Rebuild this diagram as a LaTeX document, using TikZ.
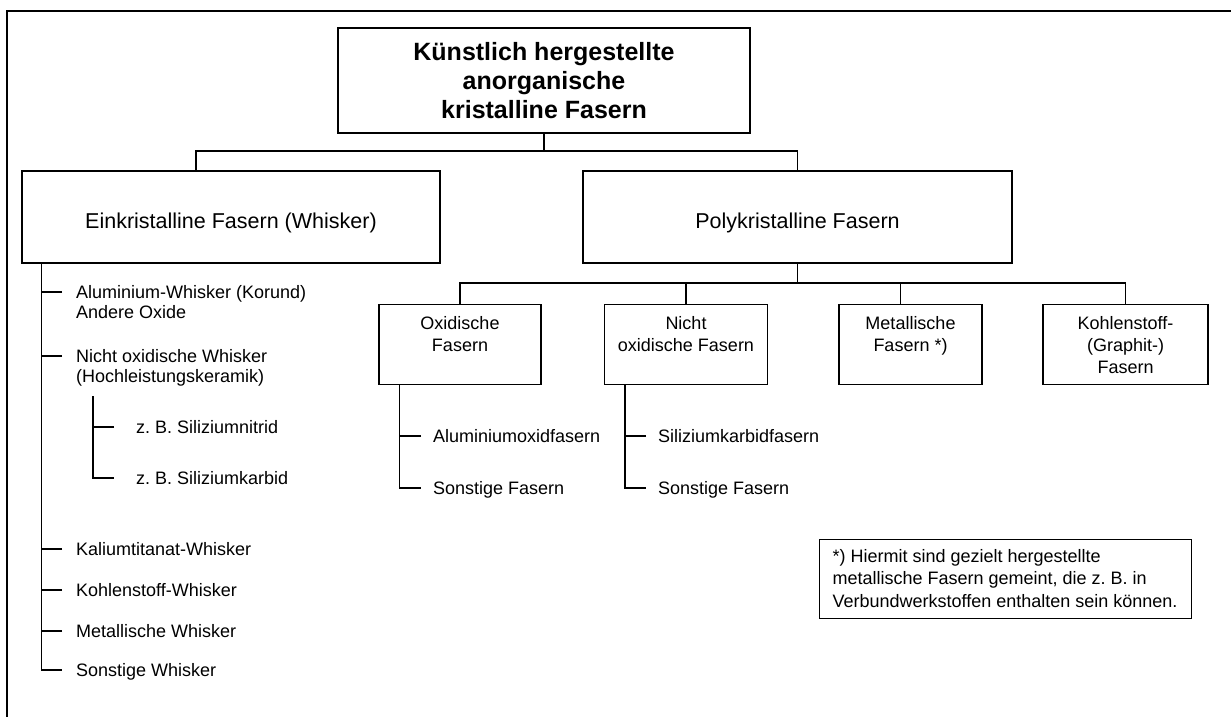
\documentclass[tikz,border=0pt]{standalone}
\usepackage{fontspec}
\setmainfont{Liberation Sans}
\usetikzlibrary{positioning}
\frenchspacing
\newcommand{\fhead}{\fontsize{25}{29}\selectfont\bfseries}
\newcommand{\fgroup}{\fontsize{21.5}{26}\selectfont}
\newcommand{\fkind}{\fontsize{18}{22}\selectfont}
\newcommand{\fleaf}{\fontsize{18}{20.5}\selectfont}
\newcommand{\fnote}{\fontsize{18}{22.5}\selectfont}

\begin{document}
\begin{tikzpicture}[x=1pt,y=-1pt,
  box/.style={draw,line width=1.3pt,align=center,inner sep=0pt},
  headbox/.style={box,font=\fhead,minimum width=412pt,minimum height=105pt},
  groupbox/.style={box,font=\fgroup,minimum height=92pt,text height=22pt,text depth=0pt},
  kindbox/.style={box,font=\fkind,anchor=north,inner ysep=12pt,text height=35pt,text depth=21pt},
  notebox/.style={box,font=\fnote,align=left,line width=1pt,minimum width=372pt,minimum height=79pt},
  leaf/.style={anchor=base west,inner xsep=14pt,inner ysep=0pt,font=\fleaf,align=left},
  link/.style={draw,line width=1.3pt},
  frame/.style={draw,line width=2.4pt}
]
\useasboundingbox (0,0) rectangle (1231,717);
\draw[frame] (7,720) -- (7,11) -- (1235,11);

% boxes
\node[headbox] (head) at (544,80.5) {Künstlich hergestellte\\anorganische\\kristalline Fasern};
\node[groupbox,minimum width=418pt] (eink) at (231,217) {Einkristalline Fasern (Whisker)};
\node[groupbox,minimum width=429pt] (poly) at (797.5,217) {Polykristalline Fasern};
\node[kindbox,minimum width=162pt] (oxid) at (460,304) {Oxidische\\Fasern};
\node[kindbox,minimum width=163pt] (nichtox) at (686,304) {Nicht\\oxidische Fasern};
\node[kindbox,minimum width=143pt] (metall) at (910.5,304) {Metallische\\Fasern *)};
\node[kindbox,minimum width=165pt,text height=57pt,text depth=0pt,inner ysep=11.5pt] (kohle) at (1125.5,304) {Kohlenstoff-\\(Graphit-)\\Fasern};
\node[notebox] (note) at (1005,578.5) {*) Hiermit sind gezielt hergestellte\\metallische Fasern gemeint, die z. B. in\\Verbundwerkstoffen enthalten sein können.};

% tree lines
\coordinate (bus1) at (0,151);
\coordinate (bus2) at (0,283);
\coordinate (einktop) at ([xshift=-35pt]eink.north);
\coordinate (metalltop) at ([xshift=-10pt]metall.north);
\draw[link] (head.south) -- (head.south |- bus1);
\draw[link] (einktop) |- (bus1 -| poly.north) -- (poly.north);
\draw[link] (poly.south) -- (poly.south |- bus2);
\draw[link] (oxid.north) |- (bus2 -| kohle.north) -- (kohle.north);
\draw[link] (nichtox.north) -- (nichtox.north |- bus2);
\draw[link] (metalltop) -- (metalltop |- bus2);

% whisker list
\node[leaf] (alw) at (62,318.5) {Aluminium-Whisker (Korund)\\Andere Oxide};
\node[leaf] (niw) at (62,382.5) {Nicht oxidische Whisker\\(Hochleistungskeramik)};
\node[leaf,inner xsep=22pt] (sin) at (114,433) {z. B. Siliziumnitrid};
\node[leaf,inner xsep=22pt] (sik) at (114,484) {z. B. Siliziumkarbid};
\node[leaf] (kaw) at (62,555) {Kaliumtitanat-Whisker};
\node[leaf] (kow) at (62,596) {Kohlenstoff-Whisker};
\node[leaf] (mew) at (62,637) {Metallische Whisker};
\node[leaf] (sow) at (62,676) {Sonstige Whisker};
\coordinate (einktrunk) at ([xshift=20pt]eink.south west);
\coordinate (subtrunk) at (93,396);
\draw[link] (einktrunk) |- ([yshift=6pt]sow.base west);
\foreach \n in {alw,niw}
  \draw[link] ([yshift=26.5pt]\n.base west) -- ++(-20,0);
\foreach \n in {kaw,kow,mew}
  \draw[link] ([yshift=6pt]\n.base west) -- ++(-20,0);
\draw[link] (subtrunk) |- ([yshift=6pt]sik.base west);
\draw[link] ([yshift=6pt]sin.base west) -- ++(-21,0);

% fibre lists
\node[leaf,inner xsep=12pt] (alox) at (421,442) {Aluminiumoxidfasern};
\node[leaf,inner xsep=12pt] (soox) at (421,494) {Sonstige Fasern};
\node[leaf,inner xsep=12pt] (sika) at (646,442) {Siliziumkarbidfasern};
\node[leaf,inner xsep=12pt] (sonx) at (646,494) {Sonstige Fasern};
\draw[link] ([xshift=21pt]oxid.south west) |- ([yshift=6pt]soox.base west);
\draw[link] ([yshift=6pt]alox.base west) -- ++(-21,0);
\draw[link] ([xshift=21pt]nichtox.south west) |- ([yshift=6pt]sonx.base west);
\draw[link] ([yshift=6pt]sika.base west) -- ++(-21,0);
\end{tikzpicture}
\end{document}
